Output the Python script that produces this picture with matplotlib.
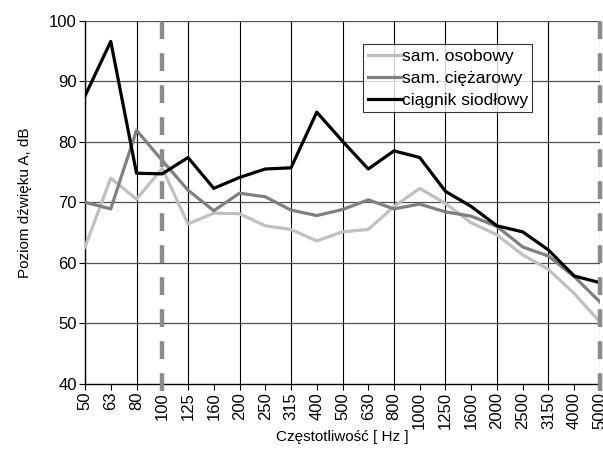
import numpy as np
import matplotlib
matplotlib.use("Agg")
import matplotlib.pyplot as plt

plt.rcParams['font.family'] = ['Liberation Sans', 'DejaVu Sans']

# pasma tercjowe [Hz]
freqs = ['50', '63', '80', '100', '125', '160', '200', '250', '315', '400',
         '500', '630', '800', '1000', '1250', '1600', '2000', '2500', '3150',
         '4000', '5000']

# poziom dźwięku A [dB]
osobowy = [62.6, 74.0, 70.5, 75.6, 66.4, 68.2, 68.1, 66.1, 65.5, 63.6, 65.1,
           65.5, 69.3, 72.3, 69.8, 66.6, 64.6, 61.3, 58.9, 54.9, 50.2]
ciezarowy = [70.0, 68.9, 81.9, 76.9, 72.0, 68.6, 71.5, 70.9, 68.7, 67.8, 68.8,
             70.4, 68.9, 69.7, 68.4, 67.7, 66.0, 62.6, 61.1, 57.7, 53.5]
ciagnik = [87.6, 96.6, 74.8, 74.7, 77.4, 72.3, 74.1, 75.5, 75.7, 84.9, 80.1,
           75.5, 78.5, 77.4, 71.8, 69.3, 66.1, 65.1, 62.1, 57.8, 56.7]

# granice analizowanego zakresu
zakres = ['100', '5000']

x = np.arange(len(freqs))

fig = plt.figure(figsize=(6.03, 4.54), dpi=100)
ax = fig.add_axes([0.141, 0.155, 0.854, 0.799])

ax.plot(x, osobowy, color='#c0c0c0', lw=2.3, label='sam. osobowy', zorder=3)
ax.plot(x, ciezarowy, color='#808080', lw=2.3, label='sam. ciężarowy', zorder=3)
ax.plot(x, ciagnik, color='black', lw=2.3, label='ciągnik siodłowy', zorder=4)

for f in zakres:
    ax.axvline(freqs.index(f), ymin=-0.02, ymax=1.0, color='#8c8c8c', lw=3.2,
               dashes=(4, 3.2), clip_on=False, zorder=5)

ax.set_xlim(0, len(freqs) - 1)
ax.set_ylim(40, 100)
ax.set_yticks(np.arange(40, 101, 10))
ax.set_xticks(x)
ax.set_xticklabels(freqs, rotation=90)

# siatka pionowa co drugie pasmo
for i in x[::2]:
    ax.axvline(i, color='black', lw=0.8, zorder=1)
for v in range(50, 101, 10):
    ax.axhline(v, color='#505050', lw=0.9, zorder=1)

for side in ['top', 'right']:
    ax.spines[side].set_visible(False)
ax.spines['left'].set_linewidth(1.0)
ax.spines['bottom'].set_linewidth(1.0)
ax.tick_params(axis='both', direction='out', length=4, width=0.8,
               labelsize=12, pad=2)

ax.set_xlabel('Częstotliwość [ Hz ]', fontsize=11, labelpad=1)
ax.set_ylabel('Poziom dźwięku A, dB', fontsize=11, labelpad=12)

leg = ax.legend(loc='upper right', bbox_to_anchor=(0.868, 0.935),
                fontsize=12.5, frameon=True, fancybox=False,
                handlelength=1.9, handletextpad=0.05, borderpad=0.25,
                labelspacing=0.4, borderaxespad=0)
leg.get_frame().set_edgecolor('black')
leg.get_frame().set_linewidth(0.8)
leg.set_zorder(6)

fig.savefig('out.png', dpi=100)
